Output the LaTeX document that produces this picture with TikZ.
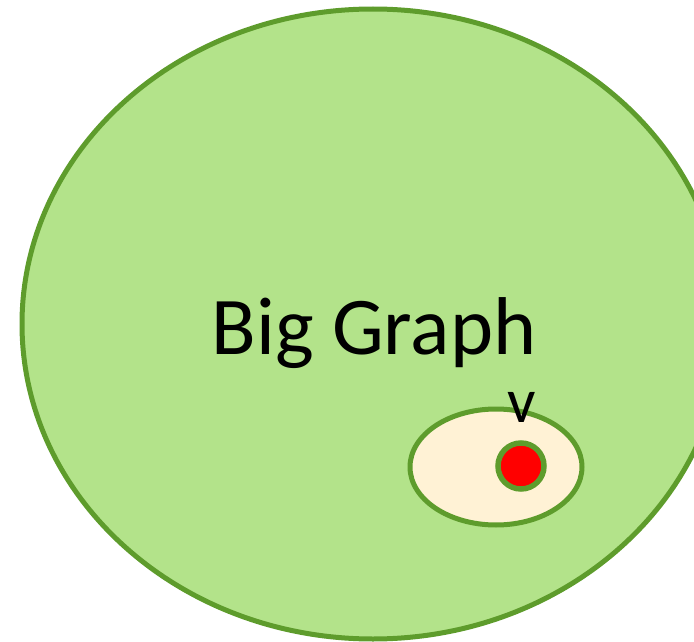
\documentclass[tikz,border=0pt]{standalone}
\usepackage{fontspec}
\setmainfont{Carlito}
\definecolor{biggreen}{HTML}{B3E38A}
\definecolor{edgegreen}{HTML}{5E9C2C}
\definecolor{cream}{HTML}{FFF2D5}
\tikzset{
  region/.style={draw=edgegreen, line width=5pt},
  vertex/.style={circle, draw=edgegreen, line width=5.5pt, fill=red, minimum size=46pt, inner sep=0pt},
  lbl/.style={inner sep=0pt, anchor=base}
}
\begin{document}
\begin{tikzpicture}[x=1pt,y=-1pt]
\useasboundingbox (0,0) rectangle (694,642);
\path[region, fill=biggreen] (373,324) ellipse [x radius=351, y radius=315];
\node[lbl, font=\fontsize{82}{90}\selectfont] (big) at (374,354) {Big Graph};
\path[region, fill=cream] (496,467) ellipse [x radius=86, y radius=58];
\node[vertex] (v) at (521,466) {};
\node[lbl, font=\fontsize{63}{70}\selectfont] (vl) at (521.5,422) {v};
\end{tikzpicture}
\end{document}
